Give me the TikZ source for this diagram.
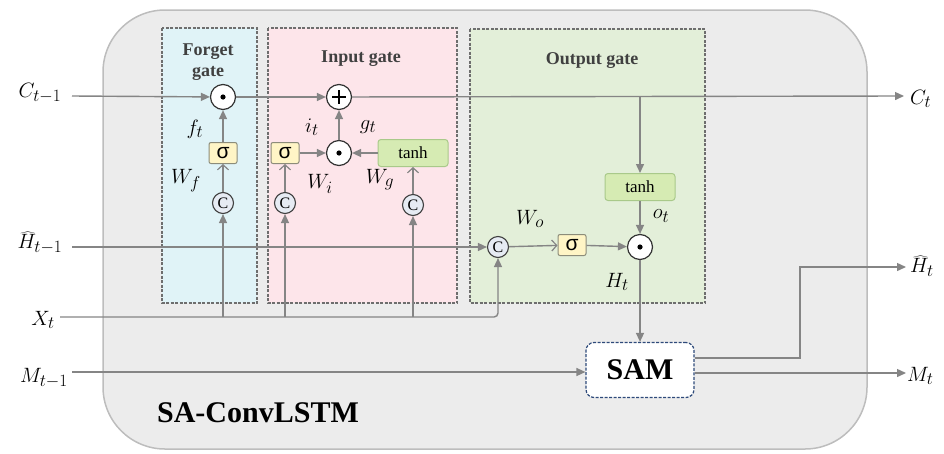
\documentclass[tikz,border=0pt]{standalone}
\usepackage{fontspec}
\setmainfont{Liberation Serif}
\newfontfamily\sansgreek{Liberation Sans}
\usetikzlibrary{arrows.meta,calc}
\def\defaultscriptratio{.78}
\def\defaultscriptscriptratio{.6}
\definecolor{outerfill}{HTML}{ECECEC}
\definecolor{outerdraw}{HTML}{BDBDBD}
\definecolor{forgetfill}{HTML}{E0F3F7}
\definecolor{inputfill}{HTML}{FDE5EA}
\definecolor{outputfill}{HTML}{E3EFD9}
\definecolor{dashdraw}{HTML}{6E6E6E}
\definecolor{linecol}{HTML}{858585}
\definecolor{sigfill}{HTML}{FFF5C6}
\definecolor{sigdraw}{HTML}{8C8C7A}
\definecolor{tanhfill}{HTML}{D6EBB3}
\definecolor{tanhdraw}{HTML}{A9C98A}
\definecolor{cfill}{HTML}{E6EBF3}
\definecolor{samdraw}{HTML}{2E4A7A}
\definecolor{titlecol}{HTML}{404040}
\tikzset{
  gatebox/.style={draw=dashdraw, dashed, line width=1.1pt, dash pattern=on 3pt off 1.5pt},
  conn/.style={draw=linecol, line width=1.4pt},
  farrow/.style={conn, -{Triangle[length=9pt,width=8pt]}},
  oarrow/.style={conn, -{Straight Barb[length=5pt,width=11pt,line width=1.2pt]}},
  sigbox/.style={draw=sigdraw, fill=sigfill, rounded corners=2pt, line width=1pt, minimum width=28pt, minimum height=21pt, inner sep=0pt, font=\sansgreek\fontsize{21}{21}\selectfont},
  tanhbox/.style={draw=tanhdraw, fill=tanhfill, rounded corners=3pt, line width=1pt, minimum width=70pt, minimum height=27pt, inner sep=0pt, font=\fontsize{17}{17}\selectfont},
  ccirc/.style={circle, draw=black!75, fill=cfill, line width=1.1pt, minimum size=21pt, inner sep=0pt, font=\fontsize{16}{16}\selectfont},
  opcirc/.style={circle, draw=black!80, fill=white, line width=1.2pt, minimum size=25pt, inner sep=0pt},
  mlabel/.style={inner sep=0pt, font=\fontsize{22}{22}\selectfont},
  gtitle/.style={inner sep=0pt, text=titlecol, font=\bfseries\fontsize{18}{20}\selectfont, align=center},
}
\begin{document}
\begin{tikzpicture}[x=1pt,y=-1pt]
\useasboundingbox (0,0) rectangle (944,453);
% outer box
\path[fill=outerfill, draw=outerdraw, line width=1.5pt, rounded corners=62pt] (103,10) rectangle (867,449);
% gate boxes
\path[gatebox, fill=forgetfill] (162,28) rectangle (257,303);
\path[gatebox, fill=inputfill] (268,28) rectangle (457,303);
\path[gatebox, fill=outputfill] (470,29) rectangle (705,303);
% titles
\node[gtitle] (tf) at (208,62) {Forget\\[1pt]gate};
\node[gtitle] (ti) at (361,59) {Input gate};
\node[gtitle] (to) at (592,61) {Output gate};
\node[inner sep=0pt, font=\bfseries\fontsize{30}{30}\selectfont] (title) at (258,413) {SA-ConvLSTM};
% operator nodes
\node[opcirc] (fmul) at (223,97) {};
\fill (fmul) circle (2.6pt);
\node[opcirc] (plus) at (339,97) {};
\draw[line width=1.6pt] ($(plus)+(-7,0)$) -- ($(plus)+(7,0)$) ($(plus)+(0,-7)$) -- ($(plus)+(0,7)$);
\node[sigbox] (fsig) at (223,153) {σ};
\node[ccirc] (fc) at (223,203) {C};
\node[sigbox] (isig) at (285,153) {σ};
\node[ccirc] (ic) at (285,203) {C};
\node[opcirc] (imul) at (339,153) {};
\fill (imul) circle (2.6pt);
\node[tanhbox] (itanh) at (413,153) {tanh};
\node[ccirc] (gc) at (413,205) {C};
\node[ccirc] (oc) at (498,247) {C};
\node[sigbox] (osig) at (572,245) {σ};
\node[opcirc] (omul) at (640,247) {};
\fill (omul) circle (2.6pt);
\node[tanhbox] (otanh) at (640,187) {tanh};
\node[draw=samdraw, dashed, dash pattern=on 3pt off 1.5pt, line width=1.2pt, fill=white, rounded corners=8pt, minimum width=108pt, minimum height=55pt, inner sep=0pt, font=\bfseries\fontsize{30}{30}\selectfont] (sam) at (640,370) {SAM};
% input/output coordinates
\coordinate (cin) at (72,96);
\coordinate (cout) at (904,96);
\coordinate (hin) at (72,247);
\coordinate (xin) at (60,317);
\coordinate (xcorner) at (498,317);
\coordinate (min) at (72,372);
\coordinate (mout) at (906,373);
\coordinate (hout) at (906,267);
\coordinate (branch) at (640,96);
% external labels
\node[mlabel] (lcin) at (40,93) {$C_{t-1}$};
\node[mlabel] (lhin) at (40,243) {$\widehat{H}_{t-1}$};
\node[mlabel] (lxin) at (43,320) {$X_t$};
\node[mlabel] (lmin) at (44,378) {$M_{t-1}$};
\node[mlabel, anchor=west] (lcout) at (910,99) {$C_t$};
\node[mlabel, anchor=west] (lhout) at (910,266) {$\widehat{H}_t$};
\node[mlabel, anchor=west] (lmout) at (907,376) {$M_t$};
% internal labels
\node[mlabel] (lft) at (195,129) {$f_t$};
\node[mlabel] (lwf) at (186,181) {$W_f$};
\node[mlabel] (lit) at (312,127) {$i_t$};
\node[mlabel] (lgt) at (368,127) {$g_t$};
\node[mlabel] (lwi) at (320,184) {$W_i$};
\node[mlabel] (lwg) at (380,180) {$W_g$};
\node[mlabel] (lwo) at (530,219) {$W_o$};
\node[mlabel] (lot) at (661,216) {$o_t$};
\node[mlabel] (lht) at (617,282) {$H_t$};
% cell state line
\draw[farrow] (cin) -- (fmul);
\draw[farrow] (fmul) -- (plus);
\draw[farrow] (plus) -- (cout);
\draw[farrow] (branch) -- (otanh);
% forget gate
\draw[oarrow] (fc) -- (fsig);
\draw[farrow] (fsig) -- (fmul);
% input gate
\draw[oarrow] (ic) -- (isig);
\draw[farrow] (isig) -- (imul);
\draw[farrow] (itanh) -- (imul);
\draw[farrow] (imul) -- (plus);
\draw[oarrow] (gc) -- (itanh);
% hidden / input lines
\draw[farrow] (hin) -- (oc);
\draw[farrow, rounded corners=4pt] (xin) -- (xcorner) -- (oc);
\draw[farrow] (fc |- xin) -- (fc);
\draw[farrow] (ic |- xin) -- (ic);
\draw[farrow] (gc |- xin) -- (gc);
% output gate
\draw[oarrow] (oc) -- (osig);
\draw[farrow] (osig) -- (omul);
\draw[farrow] (otanh) -- (omul);
\draw[farrow] (omul) -- (sam);
% memory
\draw[farrow] (min) -- (sam.west |- min);
\draw[farrow] (sam.east |- mout) -- (mout);
\draw[farrow] (sam.east |- 0,358) -- (800,358) -- (800,267) -- (hout);
\end{tikzpicture}
\end{document}
